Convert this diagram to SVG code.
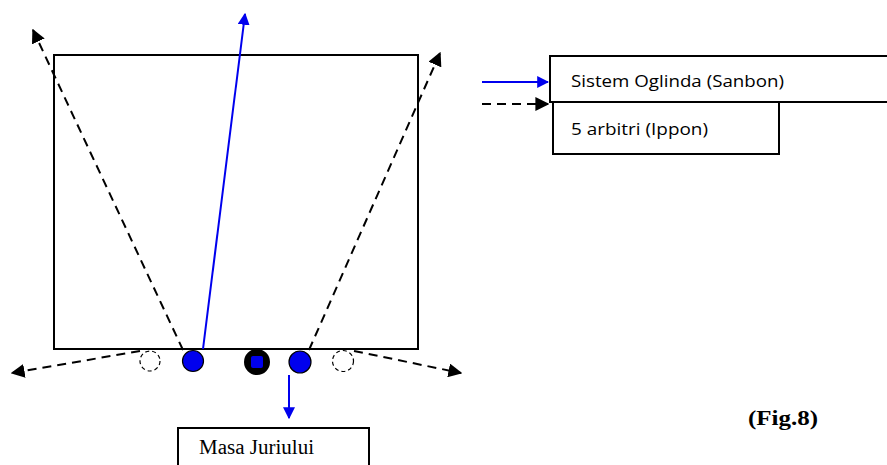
<svg xmlns="http://www.w3.org/2000/svg" width="887" height="465" viewBox="0 0 887 465">
<style>
.box{fill:#fff;stroke:#000;stroke-width:2}
.dash{fill:none;stroke:#000;stroke-width:2;stroke-dasharray:9,6}
.blue{fill:none;stroke:#0000ee;stroke-width:2}
.sans{font-family:"Open Sans","Liberation Sans",sans-serif;font-size:17px;fill:#000}
.serif{font-family:"Liberation Serif",serif;fill:#000}
</style>
<defs>
<marker id="ab" viewBox="0 0 10 10" refX="9" refY="5" markerWidth="6" markerHeight="6" orient="auto" markerUnits="strokeWidth"><path d="M0,0L10,5L0,10z" fill="#0000ee"/></marker>
<marker id="ak" viewBox="0 0 10 10" refX="9" refY="5" markerWidth="7" markerHeight="7" orient="auto" markerUnits="strokeWidth"><path d="M0,0L10,5L0,10z" fill="#000"/></marker>
</defs>
<rect id="field" x="54" y="55" width="364" height="294" fill="none" stroke="#000" stroke-width="2"/>
<g id="connectors">
<line class="blue" x1="203" y1="349" x2="245" y2="14" marker-end="url(#ab)"/>
<line class="dash" x1="183" y1="350" x2="33" y2="30" marker-end="url(#ak)"/>
<line class="dash" x1="309" y1="350" x2="440" y2="53" marker-end="url(#ak)"/>
<line class="dash" x1="140" y1="351" x2="12" y2="373" marker-end="url(#ak)"/>
<line class="dash" x1="354" y1="351" x2="461" y2="373" marker-end="url(#ak)"/>
<line class="blue" x1="289" y1="375" x2="289" y2="418" marker-end="url(#ab)"/>
<line class="blue" x1="482" y1="82" x2="548" y2="82" marker-end="url(#ab)"/>
<line class="dash" x1="482" y1="104" x2="548" y2="104" marker-end="url(#ak)"/>
</g>
<g id="ref1"><circle cx="150" cy="361" r="10" fill="#fff" stroke="#000" stroke-width="1.2" stroke-dasharray="4,3"/></g>
<g id="ref2"><circle cx="193" cy="361" r="10.5" fill="#0000ee" stroke="#000" stroke-width="1.2"/></g>
<g id="ref3"><circle cx="257" cy="362" r="12" fill="#000" stroke="#000" stroke-width="2"/><rect x="251" y="356" width="12" height="12" rx="2" fill="#0000ee"/></g>
<g id="ref4"><circle cx="300" cy="362" r="11" fill="#0000ee" stroke="#000" stroke-width="1.2"/></g>
<g id="ref5"><circle cx="343" cy="361" r="10.5" fill="#fff" stroke="#000" stroke-width="1.2" stroke-dasharray="4,3"/></g>
<g id="jury"><rect class="box" x="178" y="428" width="191" height="50"/><text class="serif" x="199" y="454" font-size="20" textLength="115" lengthAdjust="spacingAndGlyphs">Masa Juriului</text></g>
<g id="legend2"><rect class="box" x="553" y="96" width="226" height="58"/><text class="sans" x="571" y="135" textLength="137" lengthAdjust="spacingAndGlyphs">5 arbitri (Ippon)</text></g>
<g id="legend1"><rect class="box" x="550" y="56" width="345" height="46"/><text class="sans" x="571" y="87" textLength="213" lengthAdjust="spacingAndGlyphs">Sistem Oglinda (Sanbon)</text></g>
<text class="serif" x="748" y="425" font-size="20" font-weight="bold" textLength="70" lengthAdjust="spacingAndGlyphs">(Fig.8)</text>
</svg>
